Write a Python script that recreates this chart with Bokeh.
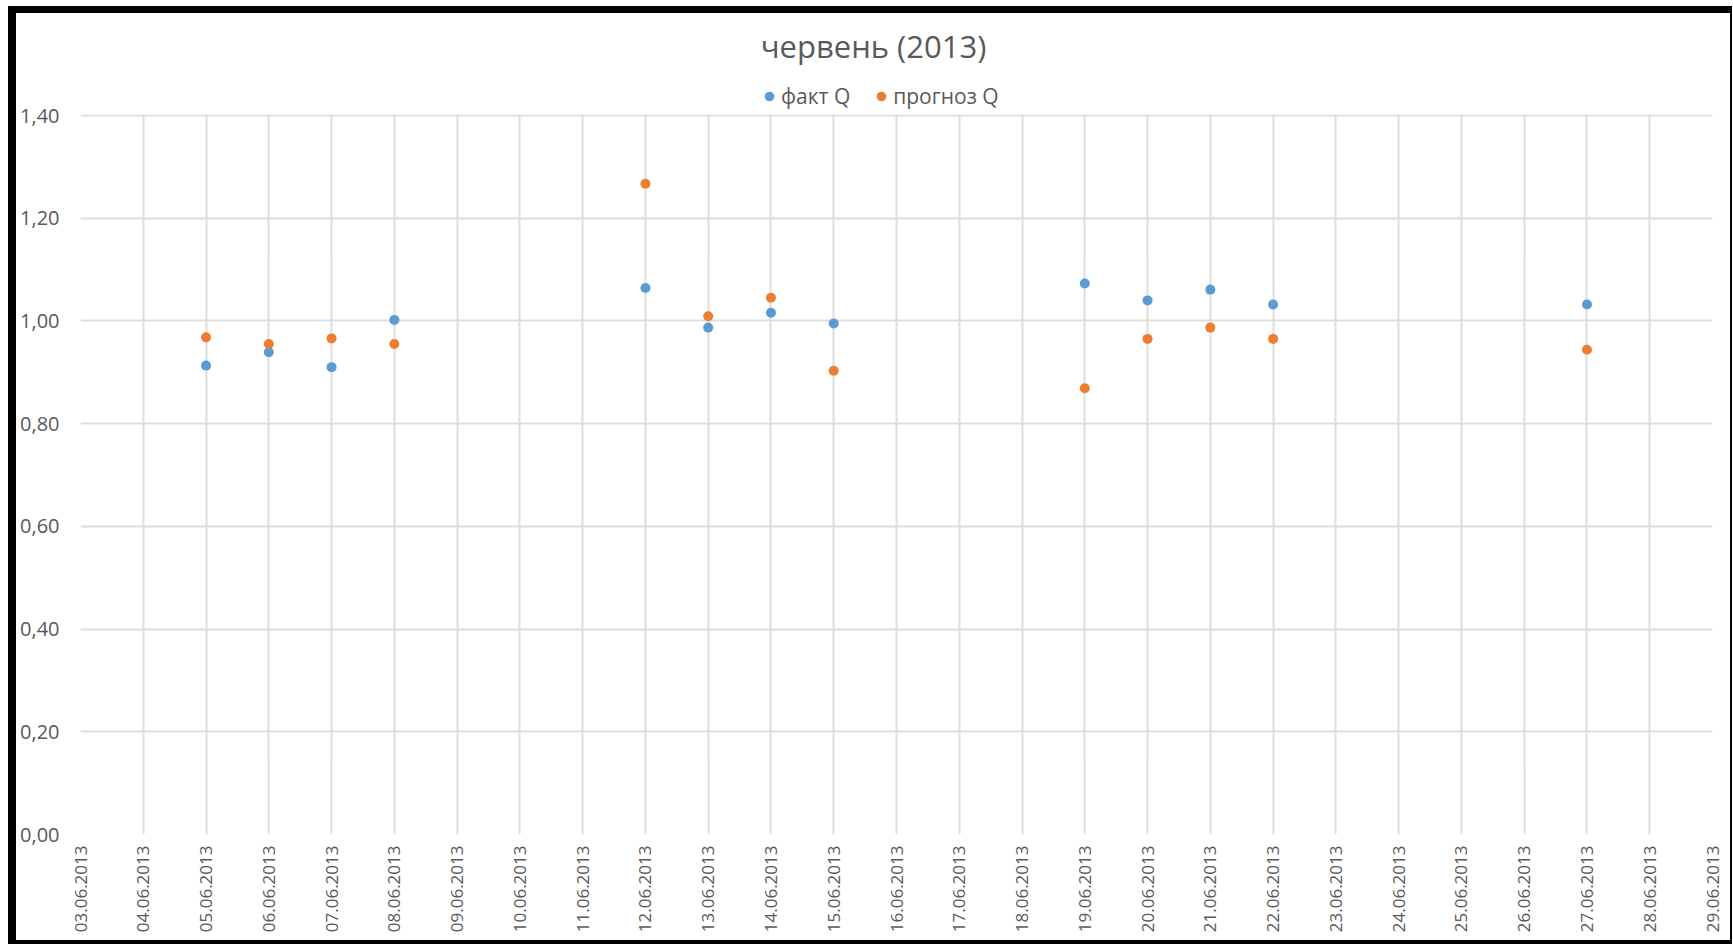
from datetime import datetime
from math import pi

import pandas as pd
from bokeh.embed import file_html
from bokeh.models import (BoxAnnotation, ColumnDataSource, CustomJSTickFormatter,
                          DatetimeTickFormatter, DaysTicker, FixedTicker, Label, Legend,
                          LegendItem, Range1d)
from bokeh.plotting import figure
from bokeh.resources import INLINE

# Daily discharge: measured vs. forecast, June 2013
dates = ["05.06.2013", "06.06.2013", "07.06.2013", "08.06.2013", "12.06.2013",
         "13.06.2013", "14.06.2013", "15.06.2013", "19.06.2013", "20.06.2013",
         "21.06.2013", "22.06.2013", "27.06.2013"]
fact_q = [0.913, 0.939, 0.910, 1.002, 1.064, 0.987, 1.016, 0.995, 1.073, 1.040,
          1.061, 1.032, 1.032]
forecast_q = [0.968, 0.955, 0.966, 0.955, 1.267, 1.009, 1.045, 0.903, 0.869, 0.965,
              0.987, 0.965, 0.944]
y_ticks = [0.0, 0.2, 0.4, 0.6, 0.8, 1.0, 1.2, 1.4]
title_text = "червень (2013)"
series_names = ["факт Q", "прогноз Q"]

FONT = "Open Sans"
TEXT_GREY = "#595959"
GRID_GREY = "#DEDEDE"
BLUE = "#5B9BD5"
ORANGE = "#ED7D31"

# Layout (px). The element carries a black CSS border (left 8, top 7, right 2, bottom 4);
# the visible chart area inside it is INNER_W x INNER_H.
INNER_W, INNER_H = 1714, 927
EDGE_X, EDGE_Y = 8 + 2, 7 + 4
BORDER_L, BORDER_R, BORDER_B = 64, 18, 106
HEADER = 102                          # strip above the value area (title + legend)
frame_h = INNER_H - BORDER_B          # whole frame height
value_h = frame_h - HEADER            # height of the 0..1.4 value area
y_max = y_ticks[-1]
y_top = y_max * frame_h / value_h     # range end so that 1.4 sits below the header

src = ColumnDataSource(dict(
    date=pd.to_datetime(dates, format="%d.%m.%Y"),
    fact=fact_q,
    forecast=forecast_q,
))

p = figure(
    width=INNER_W + EDGE_X, height=INNER_H + EDGE_Y,
    x_range=Range1d(datetime(2013, 6, 3), datetime(2013, 6, 29)),
    y_range=Range1d(0, y_top),
    x_axis_type="datetime",
    output_backend="svg",
    toolbar_location=None,
    min_border_left=BORDER_L, min_border_right=BORDER_R + EDGE_X,
    min_border_bottom=BORDER_B + EDGE_Y, min_border_top=0,
)
# black frame around the chart area
p.styles = {
    "position": "absolute", "left": "8px", "top": "6px",
    "border-left": "8px solid black", "border-top": "7px solid black",
    "border-right": "2px solid black", "border-bottom": "4px solid black",
}
p.background_fill_color = "white"
p.border_fill_color = "white"
p.outline_line_color = None

# Axes
day_ticker = DaysTicker(days=list(range(1, 32)))
xa = p.xaxis[0]
xa.ticker = day_ticker
xa.formatter = DatetimeTickFormatter(days="%d.%m.%Y", months="%d.%m.%Y",
                                     years="%d.%m.%Y", hours="%d.%m.%Y")
xa.major_label_orientation = pi / 2
xa.major_label_text_font = FONT
xa.major_label_text_font_size = "17px"
xa.major_label_text_color = TEXT_GREY
xa.major_label_standoff = 5

ya = p.yaxis[0]
ya.ticker = FixedTicker(ticks=y_ticks)
ya.formatter = CustomJSTickFormatter(code="return tick.toFixed(2).replace('.', ',');")
ya.major_label_text_font = FONT
ya.major_label_text_font_size = "20px"
ya.major_label_text_color = TEXT_GREY
ya.major_label_standoff = 15

for ax in (xa, ya):
    ax.axis_line_color = None
    ax.major_tick_line_color = None
    ax.minor_tick_line_color = None

p.xgrid.ticker = day_ticker
p.ygrid.ticker = FixedTicker(ticks=y_ticks)
for g in (p.xgrid, p.ygrid):
    g.grid_line_color = GRID_GREY
    g.grid_line_width = 2

# Points
r_fact = p.scatter("date", "fact", source=src, size=10, color=BLUE, line_color=None)
r_fore = p.scatter("date", "forecast", source=src, size=10, color=ORANGE, line_color=None)

# Blank header strip above the top grid line
p.add_layout(BoxAnnotation(bottom=y_max + 1.0 * y_top / frame_h, fill_color="white",
                           fill_alpha=1, line_color=None))

# Title, centred on the whole chart area (screen offsets from the frame's bottom-left)
p.add_layout(Label(
    x=(INNER_W / 2) - BORDER_L, y=frame_h - 32.5, x_units="screen", y_units="screen",
    text=title_text, text_align="center", text_baseline="middle",
    text_font=FONT, text_font_size="31px", text_color=TEXT_GREY,
))

legend = Legend(
    items=[LegendItem(label=series_names[0], renderers=[r_fact]),
           LegendItem(label=series_names[1], renderers=[r_fore])],
    orientation="horizontal",
    location=(677, value_h + 5),
    label_text_font=FONT,
    label_text_font_size="21px",
    label_text_color=TEXT_GREY,
    label_height=24,
    glyph_width=24,
    glyph_height=24,
    label_standoff=0,
    spacing=19,
    padding=0,
    margin=0,
    border_line_color=None,
    background_fill_alpha=0,
)
p.add_layout(legend, "center")

open("out.html", "w").write(file_html(p, INLINE))
